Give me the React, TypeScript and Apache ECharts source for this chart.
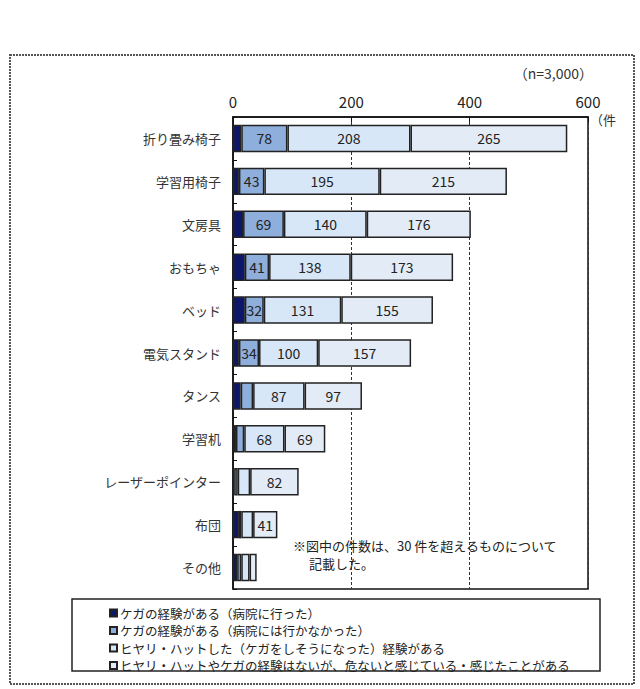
import React, { useEffect, useRef } from "react";
import * as echarts from "echarts";

const categories = [
  "折り畳み椅子",
  "学習用椅子",
  "文房具",
  "おもちゃ",
  "ベッド",
  "電気スタンド",
  "タンス",
  "学習机",
  "レーザーポインター",
  "布団",
  "その他",
];

const seriesNames = [
  "ケガの経験がある（病院に行った）",
  "ケガの経験がある（病院には行かなかった）",
  "ヒヤリ・ハットした（ケガをしそうになった）経験がある",
  "ヒヤリ・ハットやケガの経験はないが、危ないと感じている・感じたことがある",
];

const injuredHospital = [14, 10, 17, 20, 20, 10, 13, 5, 2, 10, 7];
const injuredNoHospital = [78, 43, 69, 41, 32, 34, 21, 14, 6, 4, 7];
const nearMiss = [208, 195, 140, 138, 131, 100, 87, 68, 21, 20, 14];
const feltDanger = [265, 215, 176, 173, 155, 157, 97, 69, 82, 41, 12];

const xTicks = [0, 200, 400, 600];

const colors = ["#0c176b", "#8eaedb", "#d8e7f8", "#e3ebf6"];
const FONT = "'Noto Sans CJK JP', 'Noto Sans', sans-serif";

export default function App() {
  const ref = useRef<HTMLDivElement>(null);

  useEffect(() => {
    if (!ref.current) return;
    const chart = echarts.init(ref.current, null, { renderer: "svg" });
    const dataSets = [injuredHospital, injuredNoHospital, nearMiss, feltDanger];
    const series = dataSets.map((d, i) => ({
      name: seriesNames[i],
      type: "bar",
      stack: "total",
      barWidth: "64%",
      data: d,
      itemStyle: { color: colors[i], borderColor: "#222", borderWidth: 1.5 },
      label: {
        show: true,
        position: "inside",
        color: "#222",
        fontFamily: FONT,
        fontSize: 14,
        formatter: (p: any) => (p.value > 30 ? String(p.value) : ""),
      },
    }));

    chart.setOption({
      animation: false,
      backgroundColor: "#fff",
      textStyle: { fontFamily: FONT },
      grid: {
        left: 233,
        top: 117,
        width: 355,
        height: 472,
        show: true,
        borderColor: "#111",
        borderWidth: 1.5,
        backgroundColor: "transparent",
      },
      legend: {
        orient: "vertical",
        left: 104,
        top: 601,
        itemWidth: 7,
        itemHeight: 7,
        itemGap: 3.5,
        icon: "rect",
        selectedMode: false,
        textStyle: {
          fontSize: 12.5,
          lineHeight: 14,
          height: 14,
          color: "#222",
          fontFamily: FONT,
          padding: [0, 0, 0, -2],
        },
        data: seriesNames,
      },
      xAxis: {
        type: "value",
        position: "top",
        min: 0,
        max: 600,
        interval: 200,
        axisLine: { show: true, lineStyle: { color: "#111", width: 1.5 } },
        axisTick: { show: true, inside: true, length: 5, lineStyle: { color: "#111" } },
        axisLabel: {
          fontSize: 15,
          color: "#222",
          margin: 8,
          formatter: (v: number) => (xTicks.includes(v) ? String(v) : ""),
        },
        splitLine: { show: true, lineStyle: { color: "#333", type: [3, 2], width: 1 } },
      },
      yAxis: {
        type: "category",
        data: categories,
        inverse: true,
        axisLine: { show: true, lineStyle: { color: "#111", width: 1.5 } },
        axisTick: { show: true, inside: true, length: 4, lineStyle: { color: "#111" } },
        axisLabel: { fontSize: 13, color: "#333", margin: 12 },
      },
      series,
      graphic: [
        {
          type: "rect",
          shape: { x: 10, y: 55, width: 624, height: 629 },
          style: { fill: "none", stroke: "#555", lineWidth: 2, lineDash: [2, 1] },
          silent: true,
        },
        {
          type: "rect",
          shape: { x: 72, y: 599, width: 528, height: 72 },
          style: { fill: "none", stroke: "#222", lineWidth: 1.5 },
          silent: true,
          z: -1,
        },
        {
          type: "text",
          x: 593,
          y: 73,
          style: {
            text: "（n=3,000）",
            align: "right",
            verticalAlign: "middle",
            fontSize: 14,
            fill: "#333",
            fontFamily: FONT,
          },
        },
        {
          type: "text",
          x: 590,
          y: 119,
          style: {
            text: "（件",
            align: "left",
            verticalAlign: "middle",
            fontSize: 13,
            fill: "#333",
            fontFamily: FONT,
          },
        },
        {
          type: "text",
          x: 293,
          y: 545,
          style: {
            text: "※図中の件数は、30 件を超えるものについて",
            align: "left",
            verticalAlign: "middle",
            fontSize: 13,
            fill: "#222",
            fontFamily: FONT,
          },
        },
        {
          type: "text",
          x: 309,
          y: 563,
          style: {
            text: "記載した。",
            align: "left",
            verticalAlign: "middle",
            fontSize: 13,
            fill: "#222",
            fontFamily: FONT,
          },
        },
      ],
    });
    return () => chart.dispose();
  }, []);

  return (
    <div
      ref={ref}
      style={{ position: "fixed", left: 0, top: 0, width: 640, height: 689, background: "#fff" }}
    />
  );
}
